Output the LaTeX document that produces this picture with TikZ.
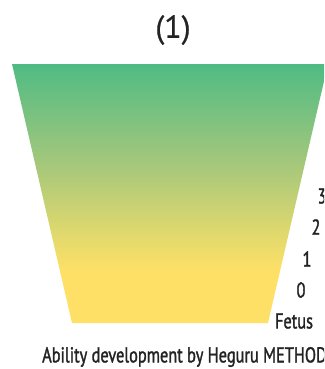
\documentclass[tikz,border=0pt]{standalone}
\usepackage{fontspec}
\setmainfont{PT Sans}
\newfontfamily\narrowfont[FakeStretch=0.76,FakeBold=1.4]{PT Sans}
\newfontfamily\titlefont[FakeBold=0.5]{PT Sans}
\usetikzlibrary{positioning}
\definecolor{topgreen}{RGB}{79,187,132}
\definecolor{midgreen}{RGB}{168,200,123}
\definecolor{midyellow}{RGB}{221,216,110}
\definecolor{lowyellow}{RGB}{255,224,102}
\definecolor{labeltext}{RGB}{35,35,35}
\pgfdeclareverticalshading{ability}{100bp}{%
  color(0bp)=(lowyellow); color(35bp)=(lowyellow);
  color(43bp)=(midyellow); color(55bp)=(midgreen);
  color(75bp)=(topgreen); color(100bp)=(topgreen)}
\begin{document}
\begin{tikzpicture}[x=1pt,y=-1pt,
    agelabel/.style={text=labeltext,font=\narrowfont\fontsize{21.5}{24}\selectfont,inner sep=0pt},
    titlelabel/.style={text=labeltext,font=\titlefont\fontsize{32}{35}\selectfont,inner sep=0pt},
    caption/.style={text=labeltext,font=\narrowfont\fontsize{21.5}{24}\selectfont,inner sep=0pt,anchor=west}
]
\useasboundingbox (0,0) rectangle (324,369);
\clip (0,0) rectangle (324,369);

% funnel
\coordinate (tl) at (12,64);
\coordinate (tr) at (328,64);
\coordinate (br) at (268,323);
\coordinate (bl) at (72,323);
\shade[shading=ability] (tl) -- (tr) -- (br) -- (bl) -- cycle;

\node[titlelabel] (title) at (173,30) {(1)};

% ages
\node[agelabel] (age3) at (322,196) {3};
\node[agelabel] (age2) at (316,227) {2};
\node[agelabel] (age1) at (307,259) {1};
\node[agelabel] (age0) at (301,290) {0};
\node[agelabel] (fetus) at (294,321) {Fetus};

\node[caption] (cap) at (42,357) {Ability development by Heguru METHOD};
\end{tikzpicture}
\end{document}
